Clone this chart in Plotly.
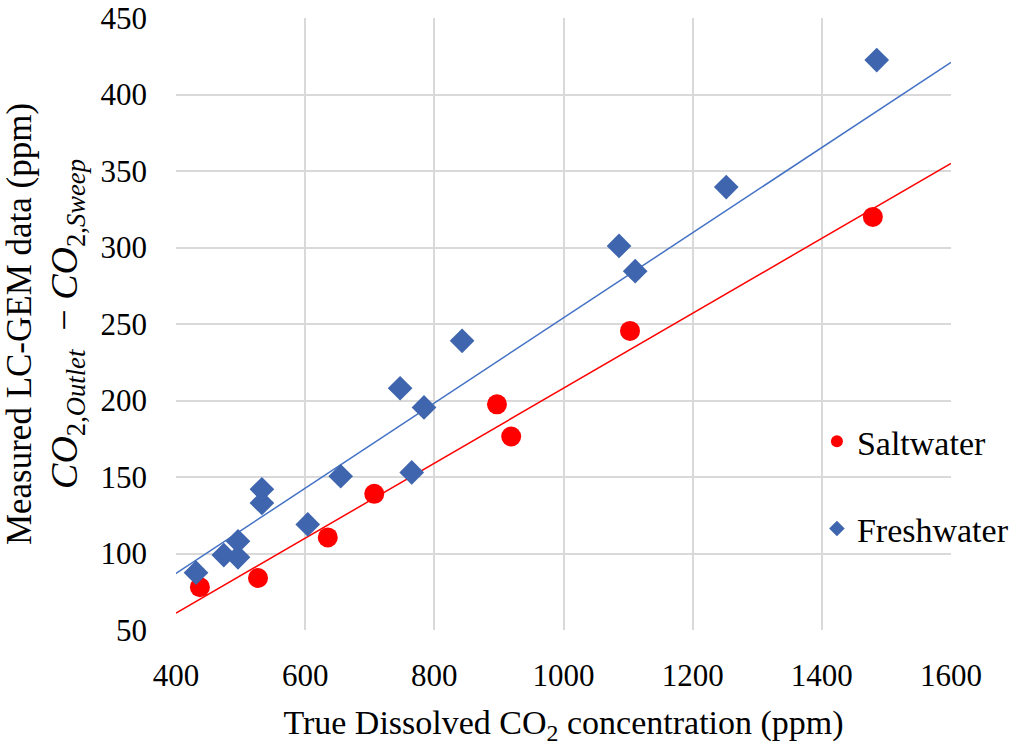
import plotly.graph_objects as go

# Data
fresh_x = [431, 474, 496, 496, 533, 533, 604, 655, 747, 784, 765, 843, 1086, 1111, 1252, 1485]
fresh_y = [87.5, 99, 97.5, 108, 133, 142, 119, 150.5, 208, 195.5, 153, 239, 301, 284.5, 339.5, 422.5]
salt_x = [437, 527, 635, 707, 897, 919, 1103, 1479]
salt_y = [78, 84, 110.5, 139, 197.5, 176.5, 245.5, 320]

# Linear trendlines (as drawn in the reference), evaluated at the axis ends
trend_x = [400, 1600]
fresh_trend_y = [87, 421]
salt_trend_y = [61, 355]

x_ticks = [400, 600, 800, 1000, 1200, 1400, 1600]
y_ticks = [50, 100, 150, 200, 250, 300, 350, 400, 450]

FONT = "Liberation Serif"
BLUE = "#3E65AD"
BLUE_LINE = "#4472C4"
RED = "#FF0000"

fig = go.Figure()
fig.add_trace(go.Scatter(x=trend_x, y=fresh_trend_y, mode="lines",
                         line=dict(color=BLUE_LINE, width=1.5), showlegend=False, hoverinfo="skip"))
fig.add_trace(go.Scatter(x=trend_x, y=salt_trend_y, mode="lines",
                         line=dict(color=RED, width=1.5), showlegend=False, hoverinfo="skip"))
fig.add_trace(go.Scatter(x=salt_x, y=salt_y, mode="markers", name="Saltwater", legendgroup="s",
                         marker=dict(symbol="circle", size=20, color=RED)))
fig.add_trace(go.Scatter(x=fresh_x, y=fresh_y, mode="markers", name="Freshwater", legendgroup="f",
                         marker=dict(symbol="diamond", size=19, color=BLUE)))

axis_common = dict(showgrid=True, gridcolor="#D9D9D9", gridwidth=2, zeroline=False,
                   showline=False, ticks="", automargin=False,
                   tickfont=dict(family=FONT, size=31, color="#000"))

y_title = ("Measured LC-GEM data (ppm)<br>"
           "<span style='font-size:38px'><i>CO</i><sub>2,<i>Outlet</i></sub>  − "
           "<i>CO</i><sub>2,<i>Sweep</i></sub></span>")

fig.update_layout(
    width=1023, height=747,
    margin=dict(l=176, r=72, t=18, b=117, autoexpand=False),
    paper_bgcolor="white", plot_bgcolor="white",
    font=dict(family=FONT, color="#000"),
    xaxis=dict(range=[400, 1600], tickvals=x_ticks, ticklabelstandoff=24,
               title=dict(text="True Dissolved CO<sub>2</sub> concentration (ppm)",
                          font=dict(family=FONT, size=34), standoff=18),
               **axis_common),
    yaxis=dict(range=[50, 450], tickvals=y_ticks, ticklabelstandoff=28,
               title=dict(text=y_title, font=dict(family=FONT, size=35), standoff=12),
               **axis_common),
    legend=dict(x=0.827, y=0.355, xanchor="left", yanchor="top", bgcolor="rgba(0,0,0,0)",
                font=dict(family=FONT, size=34), tracegroupgap=40, traceorder="grouped",
                itemsizing="constant"),
)

fig.write_html("out.html")
